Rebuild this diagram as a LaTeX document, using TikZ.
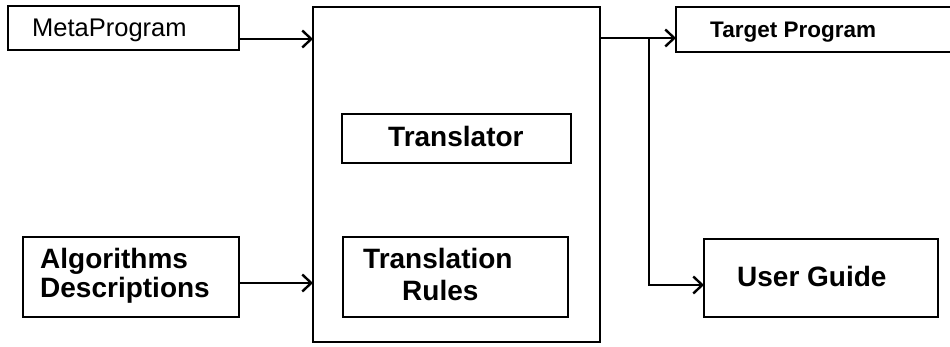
\documentclass[tikz,border=0pt]{standalone}
\usepackage{fontspec}
\setmainfont{Liberation Sans}
\usetikzlibrary{arrows.meta}
\begin{document}
\begin{tikzpicture}[x=1pt,y=-1pt,
  box/.style={draw,line width=2.4pt,rectangle,inner sep=0pt,outer sep=0pt},
  lbl/.style={inner sep=0pt,anchor=base west,font=\bfseries\fontsize{28}{28}\selectfont},
  conn/.style={line width=2.4pt,-{Straight Barb[length=9pt,width=17pt,line width=2.4pt]}},
  wire/.style={line width=2.4pt}]
  \clip (0,0) rectangle (950,347);
  \fill[white] (0,0) rectangle (950,347);

  % boxes
  \node[box,minimum width=231pt,minimum height=44pt] (meta) at (123.5,28) {};
  \node[box,minimum width=287pt,minimum height=335pt] (main) at (456.5,174.5) {};
  \node[box,minimum width=229pt,minimum height=49pt] (trans) at (456.5,138.5) {};
  \node[box,minimum width=225pt,minimum height=80pt] (rules) at (455.5,277) {};
  \node[box,minimum width=216pt,minimum height=80pt] (algo) at (131,277) {};
  \node[box,minimum width=304pt,minimum height=45pt] (target) at (828,29.5) {};
  \node[box,minimum width=234pt,minimum height=78pt] (guide) at (821,278) {};

  % texts
  \node[lbl,font=\fontsize{25.5}{25.5}\selectfont] (tmeta) at (32,37) {MetaProgram};
  \node[lbl] (ttrans) at (388,147) {Translator};
  \node[lbl] (trules1) at (363,269) {Translation};
  \node[lbl] (trules2) at (402,300) {Rules};
  \node[lbl] (talgo1) at (40,269) {Algorithms};
  \node[lbl] (talgo2) at (40,298) {Descriptions};
  \node[lbl,font=\bfseries\fontsize{22.5}{22.5}\selectfont] (ttarget) at (710,38) {Target Program};
  \node[lbl] (tguide) at (737,287) {User Guide};

  % connector end points
  \coordinate (y1) at (0,39);
  \coordinate (y2) at (0,283);
  \coordinate (y3) at (0,38);
  \coordinate (br) at (649,38);
  \coordinate (y4) at (0,285);

  \draw[conn] (meta.east |- y1) -- (main.west |- y1);
  \draw[conn] (algo.east |- y2) -- (main.west |- y2);
  \draw[conn] (main.east |- y3) -- (target.west |- y3);
  \draw[conn] (br) |- (guide.west |- y4);
\end{tikzpicture}
\end{document}
